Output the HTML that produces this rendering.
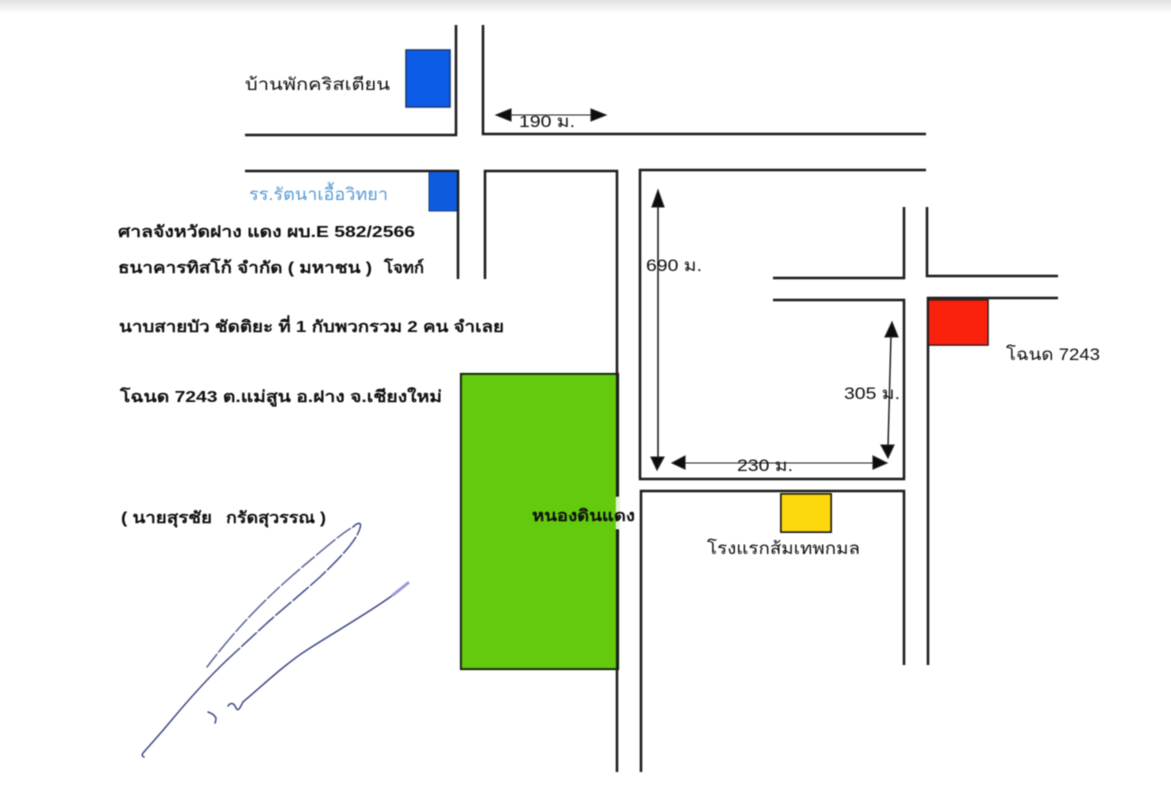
<!DOCTYPE html>
<html lang="th"><head><meta charset="utf-8"><title>แผนที่</title>
<style>
html,body{margin:0;padding:0;background:#fff;width:1171px;height:800px;overflow:hidden}
svg{display:block}
text{font-family:"Liberation Sans","Noto Sans CJK SC",sans-serif;fill:#111;font-size:17px}
.b{font-weight:bold;font-size:16px;fill:#0c0c0c}
</style></head><body>
<svg width="1171" height="800" viewBox="0 0 1171 800" xmlns="http://www.w3.org/2000/svg">
<defs>
<linearGradient id="t" x1="0" y1="0" x2="0" y2="1"><stop offset="0" stop-color="#e2e2e2"/><stop offset="1" stop-color="#fff"/></linearGradient>
<filter id="s" x="-5%" y="-5%" width="110%" height="110%"><feGaussianBlur stdDeviation="0.6"/></filter>
</defs>
<rect width="1171" height="14" fill="url(#t)"/>
<g filter="url(#s)">
<rect x="461" y="374" width="157" height="295" fill="#64ca10" stroke="#14240a" stroke-width="2.2"/>
<rect x="616" y="497" width="4" height="32" fill="#e4f4d0"/>
<rect x="406" y="50" width="44" height="57" fill="#0a5ce8" stroke="#1e3a70" stroke-width="1.6"/>
<rect x="429" y="171" width="28" height="40" fill="#0a5ce0" stroke="#1e3a70" stroke-width="1"/>
<rect x="928" y="300" width="60" height="45" fill="#fa240c" stroke="#301818" stroke-width="1.6"/>
<rect x="781" y="494" width="50" height="38" fill="#fdd80a" stroke="#20200c" stroke-width="2"/>
<g fill="none" stroke="#1c1c1c" stroke-width="2.5">
<path d="M456 25V135H245"/>
<path d="M483 25V134H926"/>
<path d="M245 171H458V279"/>
<path d="M485 279V171H617V497M617 529V772"/>
<path d="M926 170H640V479H904V300H773"/>
<path d="M773 278H904V207"/>
<path d="M927 207V276H1058"/>
<path d="M1058 298H928V665"/>
<path d="M641 772V491H904V665"/>
</g>
<g stroke="#222" stroke-width="1.1" fill="#0c0c0c">
<path d="M510 115H594"/>
<path d="M496 115l15-6v12z"/><path d="M606 115l-15-6v12z"/>
<path d="M658 204V458" stroke-width="1.6"/>
<path d="M658 190l-6 17h12z"/><path d="M657 470l-6-13h13z"/>
<path d="M684 463H876"/>
<path d="M672 463l13-7v13z"/><path d="M887 463l-14-7v13z"/>
<path d="M891 335L888 447" stroke-width="1.5"/>
<path d="M892 322l-7 15h13z"/><path d="M888 458l-7-13h13z"/>
</g>
</g>
<g filter="url(#s)">
<text x="519" y="127" font-size="18" textLength="56" lengthAdjust="spacingAndGlyphs">190 ม.</text>
<text x="646" y="271" font-size="18" textLength="56" lengthAdjust="spacingAndGlyphs">690 ม.</text>
<text x="737" y="471" font-size="18" textLength="56" lengthAdjust="spacingAndGlyphs">230 ม.</text>
<text x="844" y="399" font-size="18" textLength="56" lengthAdjust="spacingAndGlyphs">305 ม.</text>
<text x="245" y="90" font-size="17" textLength="145" lengthAdjust="spacingAndGlyphs">บ้านพักคริสเตียน</text>
<text x="249" y="200" font-size="16" style="fill:#5a9ad4" textLength="139" lengthAdjust="spacingAndGlyphs">รร.รัตนาเอื้อวิทยา</text>
<text class="b" x="118" y="237" textLength="297" lengthAdjust="spacingAndGlyphs">ศาลจังหวัดฝาง แดง ผบ.E 582/2566</text>
<text class="b" x="118" y="273" textLength="254" lengthAdjust="spacingAndGlyphs">ธนาคารทิสโก้ จำกัด ( มหาชน )</text>
<text class="b" x="384" y="273" textLength="40" lengthAdjust="spacingAndGlyphs">โจทก์</text>
<text class="b" x="119" y="332" textLength="385" lengthAdjust="spacingAndGlyphs">นาบสายบัว ชัดติยะ ที่ 1 กับพวกรวม 2 คน จำเลย</text>
<text class="b" x="120" y="402" textLength="322" lengthAdjust="spacingAndGlyphs">โฉนด 7243 ต.แม่สูน อ.ฝาง จ.เชียงใหม่</text>
<text class="b" x="121" y="523" textLength="91" lengthAdjust="spacingAndGlyphs">( นายสุรชัย</text>
<text class="b" x="226" y="523" textLength="100" lengthAdjust="spacingAndGlyphs">กรัดสุวรรณ )</text>
<text class="b" x="532" y="521" textLength="103" lengthAdjust="spacingAndGlyphs">หนองดินแดง</text>
<text x="707" y="554" font-size="17" textLength="153" lengthAdjust="spacingAndGlyphs">โรงแรกส้มเทพกมล</text>
<text x="1006" y="360" font-size="17" textLength="94" lengthAdjust="spacingAndGlyphs">โฉนด 7243</text>
</g>
<g filter="url(#s)" fill="none" stroke="#3f4a88" stroke-width="1.5" stroke-linecap="round" stroke-linejoin="round">
<path d="M207 667C235 630 265 598 307 563C325 548 342 533 353 527" stroke-dasharray="16 3 24 3" stroke="#5a6598"/>
<path d="M353 527C358 522 362 522 360 528C357 540 340 558 320 577C300 595 285 607 267 623L227 660" stroke-dasharray="20 3"/>
<path d="M227 660C208 678 190 698 170 722C160 734 150 745 143 753Q141 756 144 757"/>
<path d="M228 706C231 702 234 703 236 708C238 712 240 708 243 702C262 686 285 664 307 650C325 638 370 612 393 595"/>
<path d="M393 595L408 583" stroke="#9a9ad8" stroke-width="3"/>
<path d="M208 712Q214 714 216 718Q216 721 215 723"/>
</g>
</svg>
</body></html>
